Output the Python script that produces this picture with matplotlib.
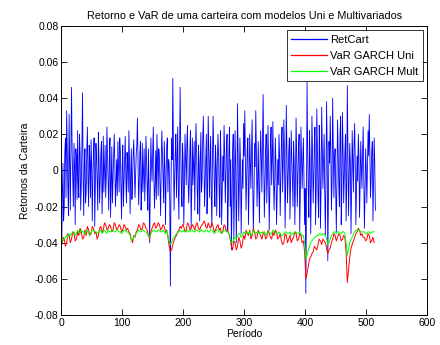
import numpy as np
import matplotlib
matplotlib.use("Agg")
import matplotlib.pyplot as plt

plt.rcParams['font.family'] = ['Liberation Sans', 'DejaVu Sans']

# ---- data ----
ret_cart = [
    -0.041, -0.012, 0.004, -0.028, -0.020, 0.010, 0.018, -0.015, 0.033, 0.012, -0.010, -0.025, 0.031, 0.005, -0.022, 0.015, 0.046, 0.010, -0.005, -0.020,
    0.015, 0.002, -0.030, 0.012, 0.008, -0.016, 0.022, -0.008, -0.015, 0.020, 0.010, -0.022, -0.008, 0.014, 0.043, -0.005, -0.025, 0.005, 0.012, -0.018,
    -0.012, 0.010, 0.024, -0.006, -0.020, 0.014, 0.005, -0.015, 0.017, 0.004, -0.028, -0.004, 0.010, 0.018, -0.031, -0.010, 0.015, 0.006, -0.006, -0.022,
    0.021, 0.006, -0.018, -0.004, 0.009, 0.016, -0.024, -0.008, 0.019, -0.012, 0.002, 0.014, -0.015, -0.002, 0.024, 0.008, -0.010, -0.022, 0.008, 0.018,
    -0.026, -0.006, 0.013, -0.018, -0.005, 0.008, 0.020, 0.004, -0.020, -0.008, 0.006, -0.014, 0.016, 0.003, -0.012, 0.018, 0.011, -0.010, -0.027, 0.002,
    0.014, -0.020, -0.008, 0.006, 0.019, -0.004, -0.018, 0.010, 0.003, -0.012, 0.022, 0.006, -0.024, -0.002, 0.012, -0.016, -0.006, 0.009, 0.017, 0.002,
    -0.015, -0.003, 0.009, 0.014, 0.029, 0.004, -0.019, -0.006, 0.010, 0.016, -0.022, -0.010, 0.015, -0.012, 0.001, 0.012, -0.017, -0.004, 0.019, 0.006,
    -0.010, -0.022, 0.012, -0.008, -0.040, -0.012, 0.018, 0.004, -0.006, 0.010, 0.024, -0.004, -0.021, -0.008, 0.011, -0.016, 0.020, 0.006, -0.014, 0.012,
    0.007, -0.010, -0.025, 0.004, 0.022, 0.008, -0.008, -0.018, 0.016, 0.002, -0.030, -0.004, 0.013, 0.018, -0.012, 0.006, 0.004, -0.018, -0.064, -0.010,
    0.018, 0.006, 0.051, 0.012, -0.022, -0.006, 0.010, 0.020, -0.015, 0.004, 0.024, -0.010, -0.027, 0.008, 0.046, 0.012, -0.010, -0.020, 0.015, 0.004,
    -0.030, -0.010, 0.020, 0.006, -0.008, 0.014, 0.025, -0.004, -0.018, -0.006, 0.012, 0.022, -0.032, -0.012, 0.018, -0.008, 0.003, 0.016, -0.022, 0.008,
    0.026, 0.010, -0.012, -0.024, 0.014, 0.004, -0.028, 0.006, 0.021, -0.012, -0.006, 0.016, 0.030, 0.008, -0.020, -0.006, 0.010, 0.020, -0.024, -0.010,
    0.030, 0.012, -0.015, 0.004, 0.019, -0.014, -0.031, 0.008, 0.030, 0.012, -0.008, -0.020, 0.014, 0.002, -0.025, 0.006, 0.020, 0.008, -0.012, -0.026,
    0.022, 0.006, -0.030, -0.010, 0.008, -0.006, 0.025, 0.010, -0.018, -0.004, 0.015, 0.020, -0.033, -0.014, 0.012, 0.024, -0.020, 0.006, -0.044, -0.020,
    0.010, 0.020, -0.038, -0.012, 0.022, 0.004, -0.040, -0.016, 0.037, 0.010, -0.028, -0.008, 0.018, 0.002, -0.035, -0.012, 0.006, -0.010, 0.026, 0.008,
    0.033, 0.006, -0.022, -0.004, 0.012, 0.018, -0.030, -0.010, 0.020, 0.004, -0.010, 0.012, 0.028, -0.008, -0.034, -0.014, 0.015, 0.002, 0.033, 0.010,
    -0.020, -0.006, 0.016, -0.010, -0.029, 0.004, 0.022, 0.008, -0.012, 0.016, 0.042, 0.006, -0.026, -0.010, 0.010, 0.020, -0.018, -0.004, 0.025, 0.004,
    -0.033, -0.012, 0.014, 0.024, -0.008, 0.006, 0.027, -0.004, -0.022, -0.006, 0.018, 0.004, -0.030, -0.014, 0.006, -0.008, 0.020, 0.008, -0.025, -0.004,
    0.015, 0.024, -0.012, 0.004, 0.028, 0.010, -0.032, -0.010, 0.036, 0.012, -0.018, -0.004, 0.010, 0.018, -0.027, -0.008, 0.022, 0.006, -0.005, -0.020,
    0.016, 0.004, -0.030, -0.008, 0.029, 0.010, -0.020, -0.004, 0.012, 0.020, -0.034, -0.012, 0.024, 0.008, -0.010, 0.006, 0.018, -0.006, -0.030, -0.010,
    -0.068, -0.020, 0.049, 0.012, -0.012, -0.026, 0.022, 0.006, -0.035, -0.008, 0.030, 0.010, -0.018, -0.004, 0.015, 0.024, -0.030, -0.010, 0.034, 0.012,
    -0.015, -0.026, 0.025, 0.008, -0.032, -0.010, 0.035, 0.014, -0.010, 0.004, 0.020, -0.012, -0.036, -0.006, 0.038, 0.012, -0.050, -0.018, 0.016, 0.004,
    0.030, 0.010, -0.022, -0.006, 0.040, 0.014, -0.015, 0.006, 0.012, -0.012, -0.034, -0.006, 0.028, 0.010, -0.008, -0.020, 0.020, 0.030, -0.030, -0.012,
    0.032, 0.012, -0.018, -0.004, 0.010, 0.020, -0.028, -0.010, 0.047, 0.014, -0.025, -0.006, 0.015, 0.004, -0.035, -0.012, 0.022, 0.006, -0.012, 0.014,
    0.026, 0.004, -0.030, -0.012, 0.008, -0.006, 0.020, 0.008, -0.026, -0.008, 0.016, 0.004, -0.010, 0.010, 0.024, -0.006, -0.032, -0.014, 0.012, 0.002,
    -0.018, 0.004, 0.022, 0.008, 0.031, 0.010, -0.015, -0.004, 0.010, 0.016, -0.028, -0.008, 0.018, 0.004, -0.022,
]

var_uni = [
    -0.041, -0.037, -0.038, -0.042, -0.040, -0.035, -0.036, -0.040, -0.038,
    -0.034, -0.035, -0.039, -0.038, -0.034, -0.036, -0.032, -0.034, -0.038, -0.037,
    -0.033, -0.036, -0.031, -0.033, -0.036, -0.035, -0.031, -0.032, -0.035, -0.034,
    -0.038, -0.036, -0.032, -0.031, -0.034, -0.033, -0.029, -0.030, -0.033, -0.032,
    -0.030, -0.031, -0.034, -0.033, -0.029, -0.030, -0.033, -0.032, -0.030, -0.031,
    -0.034, -0.033, -0.030, -0.031, -0.033, -0.032, -0.034, -0.035, -0.038, -0.040,
    -0.036, -0.037, -0.034, -0.033, -0.030, -0.031, -0.033, -0.032, -0.029, -0.030,
    -0.032, -0.033, -0.036, -0.038, -0.034, -0.032, -0.030, -0.029, -0.032, -0.031,
    -0.029, -0.030, -0.033, -0.032, -0.030, -0.031, -0.034, -0.033, -0.037, -0.042,
    -0.045, -0.044, -0.041, -0.039, -0.037, -0.036, -0.034, -0.033, -0.031, -0.032,
    -0.030, -0.031, -0.034, -0.033, -0.029, -0.030, -0.033, -0.032, -0.030, -0.031,
    -0.033, -0.030, -0.029, -0.032, -0.033, -0.031, -0.030, -0.029, -0.028, -0.031,
    -0.032, -0.029, -0.031, -0.032, -0.029, -0.031, -0.034, -0.033, -0.031, -0.030,
    -0.033, -0.032, -0.035, -0.034, -0.030, -0.031, -0.034, -0.033, -0.035, -0.038,
    -0.042, -0.044, -0.039, -0.040, -0.044, -0.042, -0.037, -0.039, -0.043, -0.041,
    -0.036, -0.038, -0.033, -0.035, -0.036, -0.033, -0.038, -0.036, -0.032, -0.034,
    -0.038, -0.037, -0.033, -0.035, -0.036, -0.038, -0.035, -0.034, -0.038, -0.037,
    -0.033, -0.035, -0.037, -0.038, -0.034, -0.036, -0.033, -0.034, -0.038, -0.037,
    -0.035, -0.039, -0.041, -0.040, -0.035, -0.036, -0.040, -0.038, -0.036, -0.040,
    -0.038, -0.037, -0.034, -0.035, -0.039, -0.038, -0.035, -0.036, -0.040, -0.039,
    -0.045, -0.060, -0.057, -0.053, -0.049, -0.048, -0.046, -0.045, -0.042, -0.043,
    -0.044, -0.041, -0.038, -0.039, -0.041, -0.038, -0.039, -0.040, -0.043, -0.046,
    -0.044, -0.043, -0.040, -0.038, -0.035, -0.036, -0.039, -0.037, -0.035, -0.036,
    -0.039, -0.038, -0.036, -0.037, -0.045, -0.062, -0.055, -0.048, -0.043, -0.041,
    -0.039, -0.037, -0.035, -0.034, -0.032, -0.033, -0.036, -0.035, -0.037, -0.037,
    -0.039, -0.038, -0.035, -0.036, -0.040, -0.039, -0.037, -0.040,
]

var_mult = [
    -0.037, -0.039, -0.038, -0.037, -0.036, -0.037, -0.035, -0.036, -0.035,
    -0.034, -0.034, -0.036, -0.035, -0.033, -0.034, -0.035, -0.033, -0.034, -0.034,
    -0.035, -0.034, -0.033, -0.035, -0.036, -0.034, -0.033, -0.033, -0.034, -0.034,
    -0.035, -0.034, -0.033, -0.033, -0.035, -0.034, -0.033, -0.034, -0.035, -0.033,
    -0.034, -0.034, -0.033, -0.033, -0.034, -0.034, -0.033, -0.033, -0.034, -0.034,
    -0.035, -0.034, -0.033, -0.033, -0.034, -0.034, -0.035, -0.036, -0.039, -0.038,
    -0.037, -0.036, -0.035, -0.034, -0.033, -0.034, -0.034, -0.033, -0.033, -0.034,
    -0.034, -0.035, -0.036, -0.037, -0.035, -0.034, -0.033, -0.033, -0.034, -0.034,
    -0.033, -0.033, -0.034, -0.034, -0.033, -0.034, -0.035, -0.033, -0.036, -0.039,
    -0.041, -0.040, -0.038, -0.037, -0.036, -0.035, -0.034, -0.034, -0.033, -0.034,
    -0.034, -0.033, -0.034, -0.034, -0.033, -0.034, -0.034, -0.033, -0.033, -0.034,
    -0.034, -0.033, -0.033, -0.034, -0.034, -0.033, -0.033, -0.034, -0.034, -0.033,
    -0.033, -0.034, -0.034, -0.033, -0.033, -0.034, -0.035, -0.034, -0.033, -0.033,
    -0.034, -0.034, -0.035, -0.034, -0.033, -0.033, -0.034, -0.034, -0.035, -0.037,
    -0.040, -0.040, -0.038, -0.037, -0.038, -0.036, -0.035, -0.035, -0.037, -0.036,
    -0.034, -0.035, -0.034, -0.034, -0.035, -0.034, -0.036, -0.035, -0.033, -0.034,
    -0.035, -0.034, -0.034, -0.035, -0.034, -0.035, -0.034, -0.034, -0.036, -0.035,
    -0.034, -0.034, -0.035, -0.035, -0.033, -0.034, -0.034, -0.035, -0.035, -0.034,
    -0.035, -0.036, -0.036, -0.035, -0.034, -0.034, -0.035, -0.035, -0.034, -0.036,
    -0.035, -0.035, -0.034, -0.034, -0.035, -0.035, -0.034, -0.035, -0.036, -0.036,
    -0.040, -0.049, -0.047, -0.044, -0.042, -0.040, -0.039, -0.038, -0.037, -0.037,
    -0.036, -0.036, -0.035, -0.035, -0.036, -0.035, -0.035, -0.036, -0.038, -0.041,
    -0.040, -0.038, -0.036, -0.035, -0.034, -0.034, -0.035, -0.034, -0.034, -0.035,
    -0.035, -0.034, -0.034, -0.035, -0.040, -0.047, -0.044, -0.040, -0.038, -0.037,
    -0.035, -0.034, -0.033, -0.033, -0.033, -0.033, -0.034, -0.034, -0.034, -0.034,
    -0.035, -0.035, -0.034, -0.034, -0.035, -0.034, -0.034, -0.034,
]

ret_periods = np.arange(1, len(ret_cart) + 1)
var_periods = np.arange(1, 2 * len(var_uni), 2)

series_names = ["RetCart", "VaR GARCH Uni", "VaR GARCH Mult"]
xticks = [0, 100, 200, 300, 400, 500, 600]
yticks = [-0.08, -0.06, -0.04, -0.02, 0, 0.02, 0.04, 0.06, 0.08]
ytick_labels = ["-0.08", "-0.06", "-0.04", "-0.02", "0", "0.02", "0.04", "0.06", "0.08"]

title = "Retorno e VaR de uma carteira com modelos Uni e Multivariados"
xlabel = "Período"
ylabel = "Retornos da Carteira"

# ---- plot ----
fig = plt.figure(figsize=(4.4, 3.45), dpi=100)
ax = fig.add_axes([0.139, 0.087, 0.832, 0.838])

ax.plot(ret_periods, ret_cart, color=(0, 0, 1), lw=0.6, label=series_names[0])
ax.plot(var_periods, var_uni, color=(1, 0, 0), lw=0.7, label=series_names[1])
ax.plot(var_periods, var_mult, color=(0, 1, 0), lw=0.7, label=series_names[2])

ax.set_xlim(0, 600)
ax.set_ylim(-0.08, 0.08)
ax.set_xticks(xticks)
ax.set_xticklabels([str(t) for t in xticks])
ax.set_yticks(yticks)
ax.set_yticklabels(ytick_labels)
ax.tick_params(direction='in', top=True, right=True, length=4, width=0.6,
               labelsize=7.5, pad=2)
for s in ax.spines.values():
    s.set_linewidth(0.7)

ax.set_title(title, fontsize=7.8, pad=5)
ax.set_xlabel(xlabel, fontsize=7.5, labelpad=1)
ax.set_ylabel(ylabel, fontsize=7.5, labelpad=3)

leg = ax.legend(loc='upper right', fontsize=8, frameon=True, fancybox=False,
                edgecolor='black', handlelength=3.2, borderaxespad=0.4,
                labelspacing=0.55, borderpad=0.4, handletextpad=0.3)
leg.get_frame().set_linewidth(0.7)
for h in leg.get_lines():
    h.set_linewidth(0.9)

fig.savefig("out.png", dpi=100)
